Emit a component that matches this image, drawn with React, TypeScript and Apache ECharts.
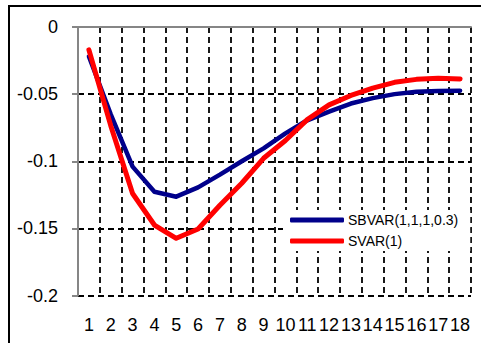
import React, { useEffect, useRef } from "react";
import * as echarts from "echarts";

const categories = ["1","2","3","4","5","6","7","8","9","10","11","12","13","14","15","16","17","18"];
const sbvar = [-0.022, -0.065, -0.104, -0.1227, -0.1264, -0.1195, -0.110, -0.100, -0.0904, -0.0792, -0.0695, -0.063, -0.057, -0.053, -0.050, -0.0483, -0.0477, -0.0474];
const svar = [-0.017, -0.0735, -0.124, -0.1475, -0.1574, -0.1505, -0.1328, -0.1164, -0.0978, -0.0845, -0.069, -0.058, -0.051, -0.0455, -0.0412, -0.039, -0.0382, -0.0387];
const seriesNames = ["SBVAR(1,1,1,0.3)", "SVAR(1)"];

export default function App() {
  const ref = useRef<HTMLDivElement>(null);
  useEffect(() => {
    const chart = echarts.init(ref.current!, null, { renderer: "svg" });
    const font = "Liberation Sans";
    const dash = { color: "#000", width: 1.8, type: [6, 4] as any };
    chart.setOption({
      animation: false,
      backgroundColor: "#fff",
      grid: { left: 78, top: 27, right: 10, bottom: 47.5 },
      graphic: [
        {
          type: "rect",
          shape: { x: 9, y: 6, width: 490, height: 360 },
          style: { fill: "none", stroke: "#000", lineWidth: 2 },
          z: 100,
        },
      ],
      legend: {
        orient: "vertical",
        left: 283,
        top: 210,
        backgroundColor: "#fff",
        padding: [2, 12, 2, 7],
        itemGap: 5,
        itemWidth: 54,
        itemHeight: 5,
        icon: "roundRect",
        textStyle: { fontFamily: font, fontSize: 14, color: "#000", lineHeight: 16, padding: [0, 0, 0, -1] },
        data: seriesNames,
      },
      xAxis: [
        {
          type: "category",
          data: categories,
          boundaryGap: true,
          position: "bottom",
          axisLine: { show: false },
          axisTick: { show: false },
          axisLabel: { interval: 0, margin: 20, fontFamily: font, fontSize: 18, color: "#000" },
          splitLine: { show: true, interval: 0, lineStyle: dash },
        },
        {
          type: "category",
          data: categories,
          boundaryGap: true,
          position: "top",
          axisLine: { show: true, lineStyle: { color: "#868686", width: 2 } },
          axisTick: { show: false },
          axisLabel: { show: false },
          splitLine: { show: false },
        },
      ],
      yAxis: {
        type: "value",
        min: -0.2,
        max: 0,
        interval: 0.05,
        axisLine: { show: true, lineStyle: { color: "#868686", width: 2 } },
        axisTick: { show: true, length: 6, lineStyle: { color: "#868686", width: 2 } },
        axisLabel: { margin: 20, fontFamily: font, fontSize: 18, color: "#000" },
        splitLine: { show: true, lineStyle: dash },
      },
      series: [
        {
          name: seriesNames[0],
          type: "line",
          data: sbvar,
          showSymbol: false,
          symbol: "none",
          color: "#00008b",
          lineStyle: { color: "#00008b", width: 4.5, cap: "round", join: "round" },
          z: 3,
        },
        {
          name: seriesNames[1],
          type: "line",
          data: svar,
          showSymbol: false,
          symbol: "none",
          color: "#ff0000",
          lineStyle: { color: "#ff0000", width: 5, cap: "round", join: "round" },
          z: 4,
        },
      ],
    });
    return () => chart.dispose();
  }, []);
  return (
    <div
      ref={ref}
      style={{ position: "fixed", left: 0, top: 0, width: 481, height: 343 }}
    />
  );
}
